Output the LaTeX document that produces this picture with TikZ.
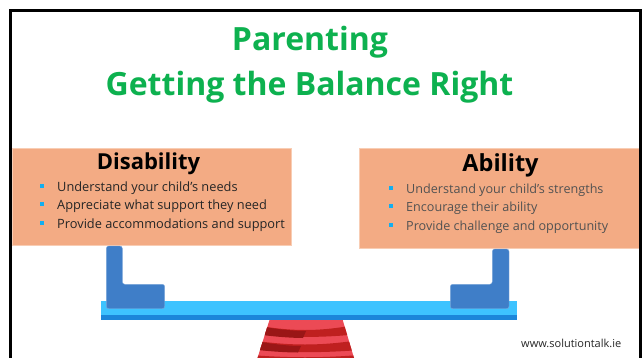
\documentclass[tikz,border=0pt]{standalone}
\usepackage{fontspec}
\setmainfont{Open Sans}
\definecolor{titlegreen}{HTML}{0DB14F}
\definecolor{boxfill}{HTML}{F3AB84}
\definecolor{boxedge}{HTML}{F8CDB4}
\definecolor{beamlight}{HTML}{3EC3FF}
\definecolor{beamdark}{HTML}{1C86DA}
\definecolor{armblue}{HTML}{3F7EC8}
\definecolor{bulletblue}{HTML}{12AEEF}
\definecolor{redlight}{HTML}{EC4A55}
\definecolor{redmid}{HTML}{BF201F}
\definecolor{reddark}{HTML}{9A1616}
\tikzset{
  x=1pt,y=-1pt,
  titletext/.style={anchor=base,inner sep=0pt,text=titlegreen,font=\fontsize{32}{36}\selectfont\bfseries},
  headtext/.style={anchor=base,inner sep=0pt,text=black,font=\fontsize{22}{26}\selectfont\bfseries},
  headtextb/.style={anchor=base,inner sep=0pt,text=black,font=\fontsize{23.5}{26}\selectfont\bfseries},
  itemleft/.style={anchor=base west,inner sep=0pt,text=black!85,font=\fontsize{12.8}{15}\selectfont},
  itemright/.style={anchor=base west,inner sep=0pt,text=black!68,font=\fontsize{12.6}{15}\selectfont},
  bulletmark/.style={fill=bulletblue,draw=none,minimum size=4.2pt,inner sep=0pt,shape=rectangle},
  panel/.style={fill=boxfill,draw=boxedge,line width=0.6pt},
  arm/.style={fill=armblue,draw=armblue!70!white,line width=0.4pt,rounded corners=2.5pt},
}
\begin{document}
\begin{tikzpicture}
\useasboundingbox (0,0) rectangle (644,358);
\fill[white] (0,0) rectangle (644,358);
% panels
\path[panel] (12,148.5) rectangle (291.5,245);
\path[panel] (359.5,148.5) rectangle (639,248.7);
% frame (open at the bottom)
\draw[black,line width=2.6pt] (10.5,358) -- (10.5,10.5) -- (640.5,10.5) -- (640.5,358);
% title
\node[titletext] (t1) at (310,50.7) {Parenting};
\node[titletext] (t2) at (309.5,95.7) {Getting the Balance Right};
\node[headtext] (h1) at (148.5,169.3) {Disability};
\node[headtextb] (h2) at (500.5,171.7) {Ability};
% left list
\node[bulletmark] (b1) at (42.3,186) {};
\node[bulletmark] (b2) at (42.3,203.7) {};
\node[bulletmark] (b3) at (42.3,223) {};
\node[itemleft] (l1) at (57,191) {Understand your child’s needs};
\node[itemleft] (l2) at (57,209) {Appreciate what support they need};
\node[itemleft] (l3) at (57,228) {Provide accommodations and support};
% right list
\node[bulletmark] (b4) at (390.7,188) {};
\node[bulletmark] (b5) at (390.7,206) {};
\node[bulletmark] (b6) at (390.7,225) {};
\node[itemright] (r1) at (406,193) {Understand your child’s strengths};
\node[itemright] (r2) at (406,211) {Encourage their ability};
\node[itemright] (r3) at (406,230) {Provide challenge and opportunity};
% pedestal
\begin{scope}
\clip (269.5,320) -- (342.7,320) -- (354,358) -- (257.5,358) -- cycle;
\fill[redlight] (250,320) rectangle (360,358);
\fill[redmid] (250,324) .. controls (290,332) and (320,332) .. (360,324) -- (360,334) .. controls (320,338) and (290,338) .. (250,333) -- cycle;
\fill[reddark] (250,324) .. controls (265,328) and (290,331) .. (306,331) -- (303,338) .. controls (290,338) and (265,336) .. (250,333) -- cycle;
\fill[redmid] (250,340) .. controls (290,346) and (320,346) .. (360,340) -- (360,350) .. controls (320,353) and (290,353) .. (250,349) -- cycle;
\fill[reddark] (250,340) .. controls (265,343) and (285,346) .. (301,346) -- (298,352.5) .. controls (285,352.5) and (265,351) .. (250,349) -- cycle;
\fill[redmid] (250,355) .. controls (290,358) and (320,358) .. (360,355) -- (360,360) -- (250,360) -- cycle;
\end{scope}
% beam
\fill[beamlight] (101,301) rectangle (516.7,315);
\fill[beamdark] (101,315) rectangle (516.7,320.3);
% arms
\path[arm] (106.3,246) -- (122.3,246) -- (122.3,284.3) -- (164.7,284.3) -- (164.7,308.7) -- (106.3,308.7) -- cycle;
\path[arm] (492.3,249) -- (509,249) -- (509,308.7) -- (450.3,308.7) -- (450.3,284.3) -- (492.3,284.3) -- cycle;
% web address
\node[anchor=base west,inner sep=0pt,text=black!85,font=\fontsize{11}{13}\selectfont] (w) at (521,347) {www.solutiontalk.ie};
\end{tikzpicture}
\end{document}
